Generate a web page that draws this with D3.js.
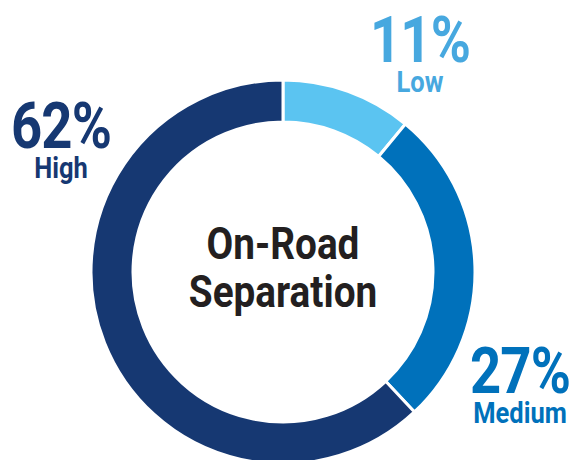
<!DOCTYPE html>
<html>
<head>
<meta charset="utf-8">
<script src="https://cdn.jsdelivr.net/npm/d3@7"></script>
<style>
  body { margin: 0; background: #fff; }
  svg { display: block; font-family: Roboto, "Liberation Sans", sans-serif; font-weight: 700; }
</style>
</head>
<body>
<svg id="chart" width="580" height="460"></svg>
<script>
const categories = ["Low", "Medium", "High"];
const values = [11, 27, 62];
const sliceColors = ["#5bc4f1", "#0071bb", "#163872"];
const labelColors = ["#47a8df", "#0071bb", "#163872"];
const centerLines = ["On-Road", "Separation"];

const width = 580, height = 460;
const cx = 283, cy = 272;
const outerR = 192, innerR = 150;
// fake a condensed face by squeezing x
const squeezeLabel = 0.85, squeezeCenter = 0.88;

// label spots, offset from the centre of the ring
const labelSpots = [
  { x: 137, y: -210 },
  { x: 237, y: 121 },
  { x: -222, y: -124 }
];

const svg = d3.select("#chart");
const g = svg.append("g").attr("transform", `translate(${cx},${cy})`);

const data = categories.map((c, i) => ({ name: c, value: values[i], i }));

const pie = d3.pie()
  .value(d => d.value)
  .sort(null);

const arc = d3.arc()
  .innerRadius(innerR)
  .outerRadius(outerR);

g.selectAll("path.slice")
  .data(pie(data))
  .enter()
  .append("path")
  .attr("class", "slice")
  .attr("d", arc)
  .attr("fill", d => sliceColors[d.data.i])
  .attr("stroke", "#fff")
  .attr("stroke-width", 3);

const labels = g.selectAll("g.label")
  .data(data)
  .enter()
  .append("g")
  .attr("class", "label")
  .attr("transform", d => `translate(${labelSpots[d.i].x},${labelSpots[d.i].y}) scale(${squeezeLabel},1)`)
  .attr("fill", d => labelColors[d.i])
  .attr("text-anchor", "middle");

labels.append("text")
  .attr("font-size", 64)
  .attr("letter-spacing", -1)
  .text(d => d.value + "%");

labels.append("text")
  .attr("y", 30)
  .attr("font-size", 30)
  .text(d => d.name);

const center = g.append("g")
  .attr("transform", `scale(${squeezeCenter},1)`)
  .attr("text-anchor", "middle")
  .attr("fill", "#231f20");

center.selectAll("text")
  .data(centerLines)
  .enter()
  .append("text")
  .attr("y", (d, i) => -13 + i * 48)
  .attr("font-size", 44)
  .text(d => d);
</script>
</body>
</html>
